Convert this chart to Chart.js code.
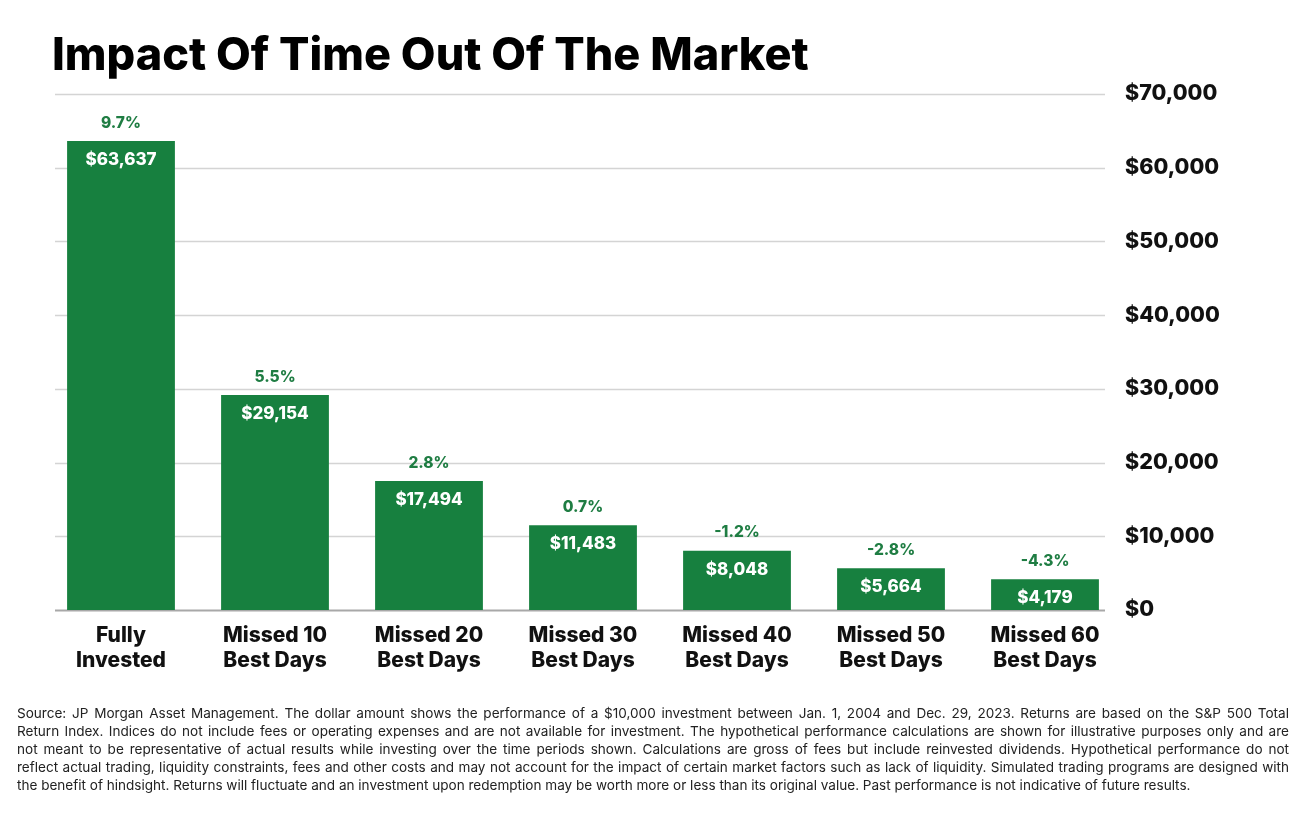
<!DOCTYPE html>
<html>
<head>
<meta charset="utf-8">
<script src="https://cdn.jsdelivr.net/npm/chart.js@4.4.1/dist/chart.umd.min.js"></script>
<style>
  html, body { margin:0; padding:0; background:#fff; }
  #wrap { position:relative; width:1293px; height:813px; overflow:hidden; }
  #c { position:absolute; left:0; top:0; }
  #title { position:absolute; left:52px; top:31px; font-family:Inter, sans-serif; font-weight:800; font-size:45px; color:#000; letter-spacing:0px; white-space:nowrap; line-height:1; }
  #src { position:absolute; left:17px; top:704px; width:1272px; font-family:Inter, sans-serif; font-size:13.55px; line-height:18px; color:#222; }
  #src div { text-align:justify; text-align-last:justify; height:18px; overflow:visible; }
  #src div.last { text-align:left; text-align-last:left; }
</style>
</head>
<body>
<div id="wrap">
  <canvas id="c" width="1293" height="813"></canvas>
  <div id="title">Impact Of Time Out Of The Market</div>
  <div id="src">
    <div>Source: JP Morgan Asset Management. The dollar amount shows the performance of a $10,000 investment between Jan. 1, 2004 and Dec. 29, 2023. Returns are based on the S&amp;P 500 Total</div>
    <div>Return Index. Indices do not include fees or operating expenses and are not available for investment. The hypothetical performance calculations are shown for illustrative purposes only and are</div>
    <div>not meant to be representative of actual results while investing over the time periods shown. Calculations are gross of fees but include reinvested dividends. Hypothetical performance do not</div>
    <div>reflect actual trading, liquidity constraints, fees and other costs and may not account for the impact of certain market factors such as lack of liquidity. Simulated trading programs are designed with</div>
    <div class="last">the benefit of hindsight. Returns will fluctuate and an investment upon redemption may be worth more or less than its original value. Past performance is not indicative of future results.</div>
  </div>
</div>
<script>
const categories = [["Fully","Invested"],["Missed 10","Best Days"],["Missed 20","Best Days"],["Missed 30","Best Days"],["Missed 40","Best Days"],["Missed 50","Best Days"],["Missed 60","Best Days"]];
const values = [63637, 29154, 17494, 11483, 8048, 5664, 4179];
const returns = ["9.7%","5.5%","2.8%","0.7%","-1.2%","-2.8%","-4.3%"];
const yTicks = [0,10000,20000,30000,40000,50000,60000,70000];

const GREEN = '#17803f';
const fmt = v => '$' + v.toLocaleString('en-US');

const gridPlugin = {
  id: 'customGrid',
  beforeDatasetsDraw(chart) {
    const y = chart.scales.y, ctx = chart.ctx;
    ctx.save();
    yTicks.forEach(t => {
      const py = Math.round(y.getPixelForValue(t)) + 0.5;
      ctx.strokeStyle = t === 0 ? '#a8a8a8' : '#d4d4d4';
      ctx.lineWidth = t === 0 ? 2 : 1.5;
      ctx.beginPath(); ctx.moveTo(55, py); ctx.lineTo(1105, py); ctx.stroke();
    });
    ctx.restore();
  }
};

const labelPlugin = {
  id: 'barLabels',
  afterDatasetsDraw(chart) {
    const ctx = chart.ctx;
    const meta = chart.getDatasetMeta(0);
    ctx.save();
    ctx.textAlign = 'center';
    ctx.textBaseline = 'middle';
    meta.data.forEach((bar, i) => {
      ctx.font = '800 17px Inter, sans-serif';
      ctx.fillStyle = '#fff';
      ctx.fillText(fmt(values[i]), bar.x, bar.y + 19);
      ctx.font = '800 15.5px Inter, sans-serif';
      ctx.fillStyle = '#1f7d43';
      ctx.fillText(returns[i], bar.x, bar.y - 18);
    });
    ctx.restore();
  }
};

new Chart(document.getElementById('c'), {
  type: 'bar',
  data: {
    labels: categories,
    datasets: [{ data: values, backgroundColor: GREEN, borderWidth: 0, barPercentage: 0.70, categoryPercentage: 1.0 }]
  },
  options: {
    responsive: false,
    animation: false,
    layout: { padding: { left: 44, top: 94, right: 0, bottom: 0 } },
    plugins: { legend: { display: false }, tooltip: { enabled: false } },
    scales: {
      x: {
        grid: { display: false, drawTicks: false },
        border: { display: false },
        ticks: { color: '#111', font: { family: 'Inter', weight: '800', size: 21, lineHeight: 1.15 }, padding: 14, maxRotation: 0, autoSkip: false },
        afterFit(s) { s.height = 203; }
      },
      y: {
        position: 'right',
        min: 0, max: 70000,
        grid: { display: false, drawTicks: false },
        border: { display: false },
        afterBuildTicks(s) { s.ticks = yTicks.map(v => ({ value: v })); },
        ticks: { color: '#111', font: { family: 'Inter', weight: '800', size: 21.5 }, padding: 3, callback: v => fmt(v) },
        afterFit(s) { s.width = 171; }
      }
    }
  },
  plugins: [gridPlugin, labelPlugin]
});
</script>
</body>
</html>
